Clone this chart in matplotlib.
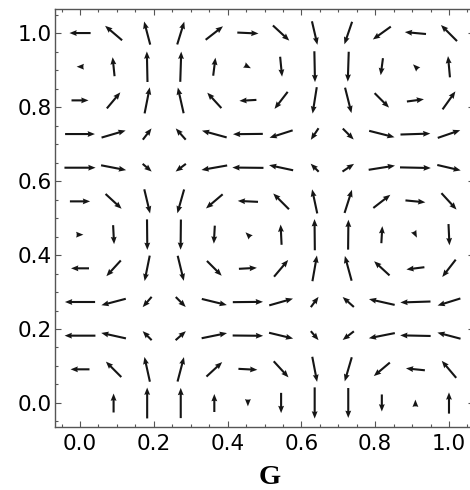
import numpy as np
import matplotlib
matplotlib.use("Agg")
import matplotlib.pyplot as plt
from matplotlib.ticker import MultipleLocator

# grid positions (x = G, y)
grid_x = [0.0, 0.091, 0.182, 0.273, 0.364, 0.455, 0.545, 0.636, 0.727, 0.818, 0.909, 1.0]
grid_y = [0.0, 0.091, 0.182, 0.273, 0.364, 0.455, 0.545, 0.636, 0.727, 0.818, 0.909, 1.0]

# horizontal components, one row per grid_y value (bottom to top)
U = [
    [0.00, 0.00, 0.00, 0.00, 0.00, 0.00, 0.00, 0.00, 0.00, 0.00, 0.00, 0.00],
    [-0.59, -0.48, -0.17, 0.20, 0.49, 0.59, 0.46, 0.15, -0.22, -0.50, -0.59, -0.45],
    [-0.96, -0.77, -0.28, 0.32, 0.79, 0.95, 0.75, 0.24, -0.35, -0.81, -0.95, -0.72],
    [-0.94, -0.76, -0.28, 0.31, 0.78, 0.94, 0.74, 0.24, -0.35, -0.80, -0.94, -0.71],
    [-0.56, -0.45, -0.16, 0.19, 0.46, 0.56, 0.44, 0.14, -0.21, -0.48, -0.56, -0.42],
    [0.04, 0.03, 0.01, -0.01, -0.03, -0.04, -0.03, -0.01, 0.01, 0.03, 0.04, 0.03],
    [0.63, 0.50, 0.18, -0.21, -0.52, -0.63, -0.49, -0.16, 0.23, 0.53, 0.62, 0.47],
    [0.97, 0.78, 0.28, -0.32, -0.80, -0.97, -0.75, -0.25, 0.36, 0.82, 0.96, 0.73],
    [0.93, 0.75, 0.27, -0.31, -0.77, -0.93, -0.72, -0.24, 0.34, 0.79, 0.93, 0.70],
    [0.53, 0.42, 0.16, -0.18, -0.44, -0.53, -0.41, -0.13, 0.20, 0.45, 0.53, 0.40],
    [-0.08, -0.06, -0.02, 0.03, 0.07, 0.08, 0.06, 0.02, -0.03, -0.07, -0.08, -0.06],
    [-0.66, -0.53, -0.19, 0.22, 0.54, 0.66, 0.51, 0.17, -0.24, -0.56, -0.66, -0.50],
]

# vertical components, one row per grid_y value (bottom to top)
V = [
    [0.00, 0.59, 0.96, 0.94, 0.56, -0.04, -0.63, -0.97, -0.93, -0.53, 0.08, 0.66],
    [0.00, 0.48, 0.77, 0.76, 0.45, -0.03, -0.50, -0.78, -0.75, -0.42, 0.06, 0.53],
    [0.00, 0.17, 0.28, 0.28, 0.16, -0.01, -0.18, -0.28, -0.27, -0.16, 0.02, 0.19],
    [0.00, -0.20, -0.32, -0.31, -0.19, 0.01, 0.21, 0.32, 0.31, 0.18, -0.03, -0.22],
    [0.00, -0.49, -0.79, -0.78, -0.46, 0.03, 0.52, 0.80, 0.77, 0.44, -0.07, -0.54],
    [0.00, -0.59, -0.95, -0.94, -0.56, 0.04, 0.63, 0.97, 0.93, 0.53, -0.08, -0.66],
    [0.00, -0.46, -0.75, -0.74, -0.44, 0.03, 0.49, 0.75, 0.72, 0.41, -0.06, -0.51],
    [0.00, -0.15, -0.24, -0.24, -0.14, 0.01, 0.16, 0.25, 0.24, 0.13, -0.02, -0.17],
    [0.00, 0.22, 0.35, 0.35, 0.21, -0.01, -0.23, -0.36, -0.34, -0.20, 0.03, 0.24],
    [0.00, 0.50, 0.81, 0.80, 0.48, -0.03, -0.53, -0.82, -0.79, -0.45, 0.07, 0.56],
    [0.00, 0.59, 0.95, 0.94, 0.56, -0.04, -0.62, -0.96, -0.93, -0.53, 0.08, 0.66],
    [0.00, 0.45, 0.72, 0.71, 0.42, -0.03, -0.47, -0.73, -0.70, -0.40, 0.06, 0.50],
]

x_label = "G"

fig = plt.figure(figsize=(4.7, 4.9), dpi=100)
ax = fig.add_axes([55 / 470, 63 / 490, 419 / 470, 418 / 490])

X, Y = np.meshgrid(grid_x, grid_y)
Ua, Va = np.array(U), np.array(V)
mag = np.hypot(Ua, Va)

# like Mathematica, very short arrows keep a minimum (head-only) size
min_mag = 0.21
small = (mag > 0) & (mag < min_mag)
f = np.ones_like(mag)
f[small] = min_mag / mag[small]
Ud, Vd = Ua * f, Va * f

ax.quiver(X, Y, Ud, Vd, angles="xy", scale_units="xy",
          scale=11.5, pivot="middle", units="dots", width=2.1,
          headwidth=2.8, headlength=3.5, headaxislength=3.2,
          minshaft=0.92, minlength=0, color="#151515")

ax.set_xlim(-0.0678, 1.0678)
ax.set_ylim(-0.0649, 1.065)

ax.xaxis.set_major_locator(MultipleLocator(0.2))
ax.yaxis.set_major_locator(MultipleLocator(0.2))
ax.xaxis.set_minor_locator(MultipleLocator(0.05))
ax.yaxis.set_minor_locator(MultipleLocator(0.05))
ax.xaxis.set_major_formatter(plt.FuncFormatter(lambda v, p: f"{v:.1f}"))
ax.yaxis.set_major_formatter(plt.FuncFormatter(lambda v, p: f"{v:.1f}"))

ax.tick_params(which="both", direction="in", top=True, right=True,
               color="#555555", width=0.8)
ax.tick_params(which="major", length=4.2, labelsize=15.5, labelcolor="black")
ax.tick_params(axis="x", which="major", pad=5)
ax.tick_params(axis="y", which="major", pad=2.5)
ax.tick_params(which="minor", length=2.3)
for lab in ax.get_xticklabels() + ax.get_yticklabels():
    lab.set_family("DejaVu Sans")

for s in ax.spines.values():
    s.set_color("#555555")
    s.set_linewidth(1.0)

lab = ax.set_xlabel(x_label, fontsize=20.5, fontweight="bold",
                    family="Liberation Serif")
lab.set_va("baseline")
ax.xaxis.set_label_coords((270 - 55) / 419, (427 - 484) / 418)

fig.savefig("out.png", dpi=100)
